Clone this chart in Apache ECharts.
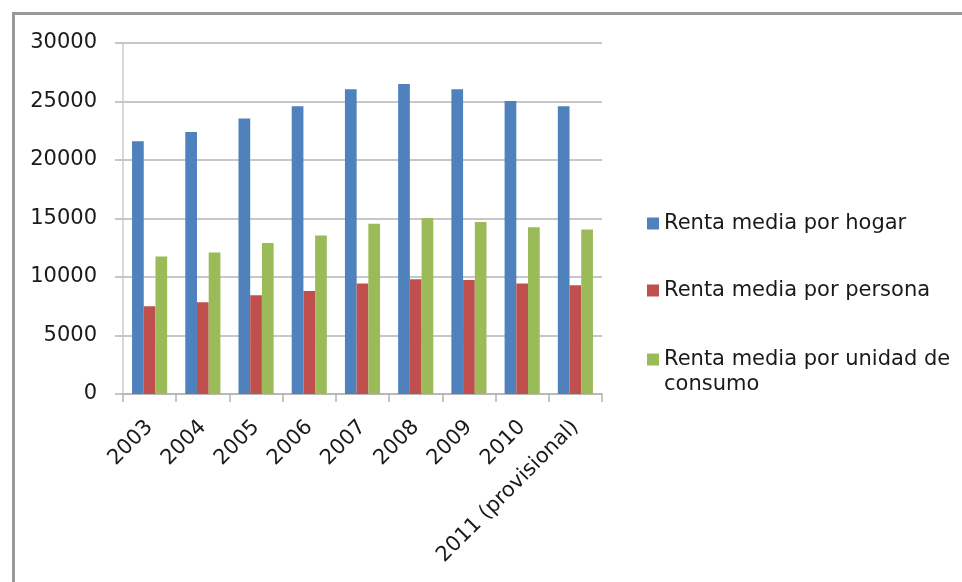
<!DOCTYPE html>
<html>
<head>
<meta charset="utf-8">
<script src="https://cdn.jsdelivr.net/npm/echarts@6/dist/echarts.min.js"></script>
<style>
  html, body { margin: 0; padding: 0; background: #fff; }
  #chart { width: 962px; height: 582px; }
</style>
</head>
<body>
<div id="chart"></div>
<script>
// Años de la encuesta
const categories = ['2003', '2004', '2005', '2006', '2007', '2008', '2009', '2010', '2011 (provisional)'];

// Renta media (euros)
const rentaHogar = [21600, 22400, 23550, 24600, 26050, 26500, 26050, 25050, 24600];
const rentaPersona = [7500, 7850, 8450, 8800, 9450, 9800, 9750, 9450, 9300];
const rentaUnidad = [11750, 12100, 12900, 13550, 14550, 15050, 14700, 14250, 14050];

const seriesNames = ['Renta media por hogar', 'Renta media por persona', 'Renta media por unidad de consumo'];
const yTicks = [0, 5000, 10000, 15000, 20000, 25000, 30000];

const colors = ['#4F81BD', '#C0504D', '#9BBB59'];
const gridColor = '#b4b4b4';

const chart = echarts.init(document.getElementById('chart'), null, { renderer: 'canvas' });

// One legend block per series. The long name wraps onto a second line; its
// swatch is a tall symbol whose filled square sits at the top, beside line one.
function legendFor(idx, top) {
  const wrapped = idx === 2;
  return {
    orient: 'vertical',
    left: 642,
    top: top,
    data: [seriesNames[idx]],
    icon: wrapped ? 'path://M0,0L12,0L12,12L0,12Z M0,37L0.01,37' : 'rect',
    itemWidth: 12,
    itemHeight: wrapped ? 37 : 12,
    itemGap: 0,
    selectedMode: false,
    formatter: function (name) {
      return name === seriesNames[2] ? 'Renta media por unidad de\nconsumo' : name;
    },
    textStyle: {
      fontFamily: 'DejaVu Sans',
      fontSize: 21,
      lineHeight: 25,
      color: '#1a1a1a'
    }
  };
}

chart.setOption({
  animation: false,
  color: colors,
  graphic: [{
    type: 'rect',
    left: 11,
    top: 11,
    shape: { width: 1000, height: 620 },
    style: { fill: 'none', stroke: '#9a9a9a', lineWidth: 3 },
    z: -1
  }],
  legend: [
    legendFor(0, 206),
    legendFor(1, 273),
    legendFor(2, 342)
  ],
  grid: {
    left: 123,
    right: 360,
    top: 43,
    bottom: 188,
    containLabel: false
  },
  xAxis: {
    type: 'category',
    data: categories,
    axisLine: { show: true, lineStyle: { color: gridColor, width: 1.5 } },
    axisTick: { show: true, length: 8, alignWithLabel: false, lineStyle: { color: gridColor, width: 1.5 } },
    axisLabel: {
      rotate: 45,
      interval: 0,
      margin: 30,
      fontFamily: 'DejaVu Sans',
      fontSize: 21,
      color: '#1a1a1a'
    },
    splitLine: { show: false }
  },
  yAxis: {
    type: 'value',
    min: yTicks[0],
    max: yTicks[yTicks.length - 1],
    interval: yTicks[1] - yTicks[0],
    axisLine: { show: true, lineStyle: { color: '#cccccc', width: 1.5 } },
    axisTick: { show: true, length: 8, lineStyle: { color: gridColor, width: 1.5 } },
    axisLabel: {
      margin: 26,
      fontFamily: 'DejaVu Sans',
      fontSize: 21,
      color: '#1a1a1a',
      formatter: function (v) { return String(v); }
    },
    splitLine: { show: true, lineStyle: { color: gridColor, width: 1.5 } }
  },
  series: [
    { name: seriesNames[0], type: 'bar', data: rentaHogar, barGap: '0%', barCategoryGap: '34%' },
    { name: seriesNames[1], type: 'bar', data: rentaPersona, barGap: '0%', barCategoryGap: '34%' },
    { name: seriesNames[2], type: 'bar', data: rentaUnidad, barGap: '0%', barCategoryGap: '34%' }
  ]
});
</script>
</body>
</html>
